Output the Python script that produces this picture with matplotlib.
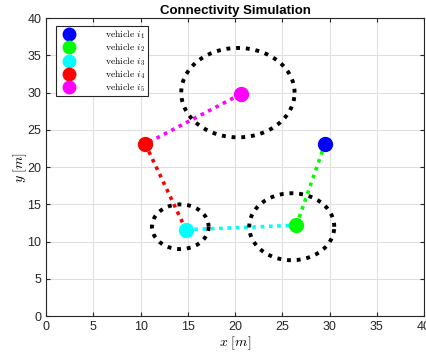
import numpy as np
import matplotlib
matplotlib.use("Agg")
import matplotlib.pyplot as plt

plt.rcParams['mathtext.fontset'] = 'cm'
plt.rcParams['font.family'] = ['Liberation Sans', 'DejaVu Sans']

# vehicle positions
veh_x = [29.5, 26.5, 14.8, 10.5, 20.6]
veh_y = [23.1, 12.2, 11.6, 23.1, 29.8]
veh_colors = ['#0000ff', '#00ff00', '#00ffff', '#ff0000', '#ff00ff']
veh_labels = [r'$\mathrm{vehicle}\ i_1$', r'$\mathrm{vehicle}\ i_2$', r'$\mathrm{vehicle}\ i_3$',
              r'$\mathrm{vehicle}\ i_4$', r'$\mathrm{vehicle}\ i_5$']

# links: (from, to)
links_from = [4, 3, 2, 1]
links_to = [3, 2, 1, 0]

# coverage circles
circ_cx = [20.3, 14.2, 26.0]
circ_cy = [30.0, 12.0, 12.0]
circ_r = [6.0, 3.0, 4.5]

fig = plt.figure(figsize=(4.27, 3.56), dpi=100)
ax = fig.add_axes([0.108, 0.112, 0.885, 0.837])

for a, b in zip(links_from, links_to):
    ax.plot([veh_x[a], veh_x[b]], [veh_y[a], veh_y[b]], color=veh_colors[a], lw=2.6,
            dashes=(1, 1.3), zorder=2)

t = np.linspace(0, 2 * np.pi, 200)
for cx, cy, r in zip(circ_cx, circ_cy, circ_r):
    ax.plot(cx + r * np.cos(t), cy + r * np.sin(t), color='black', lw=2.8,
            dashes=(1, 1.5), zorder=2)

for x, y, c, lab in zip(veh_x, veh_y, veh_colors, veh_labels):
    ax.plot([x], [y], 'o', color=c, ms=10, label=lab, zorder=3)

ax.set_xlim(0, 40)
ax.set_ylim(0, 40)
ax.set_xticks(range(0, 41, 5))
ax.set_yticks(range(0, 41, 5))
ax.grid(True, color='#e0e0e0', lw=0.8)
ax.set_axisbelow(True)
ax.tick_params(direction='in', length=3, labelsize=9, colors='#262626', top=True, right=True)
for s in ax.spines.values():
    s.set_color('#262626')
    s.set_linewidth(0.8)
ax.set_xlabel(r'$x\ [m]$', fontsize=10, labelpad=1)
ax.set_ylabel(r'$y\ [m]$', fontsize=10, labelpad=-1)
ax.set_title('Connectivity Simulation', fontsize=9.5, fontweight='bold', pad=3)

leg = ax.legend(loc='upper left', fontsize=7, frameon=True, fancybox=False, edgecolor='#262626',
                framealpha=1, handletextpad=2.6, borderpad=0.25, labelspacing=0.05,
                bbox_to_anchor=(0.026, 0.973), borderaxespad=0, handlelength=2.2,
                markerscale=0.9)
leg.get_frame().set_linewidth(0.8)

fig.savefig('out.png', dpi=100)
